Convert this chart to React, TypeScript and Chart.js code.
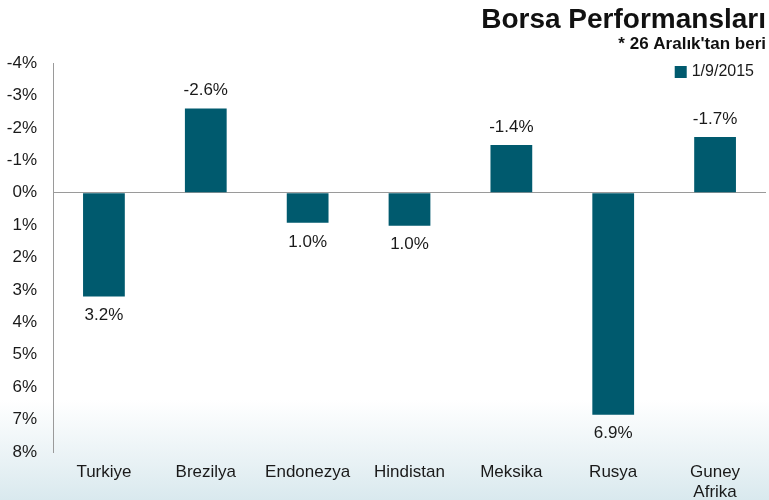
import React, { useEffect, useRef } from "react";
import { Chart, registerables } from "chart.js";

Chart.register(...registerables);

const categories: (string | string[])[] = ["Turkiye", "Brezilya", "Endonezya", "Hindistan", "Meksika", "Rusya", ["Guney", "Afrika"]];
const seriesName = "1/9/2015";
const values = [3.2, -2.6, 0.93, 1.02, -1.47, 6.85, -1.72];
const valueLabels = ["3.2%", "-2.6%", "1.0%", "1.0%", "-1.4%", "6.9%", "-1.7%"];
const titleText = "Borsa Performansları";
const subtitleText = "* 26 Aralık'tan beri";

const BAR = "#005a6e";
const FONT = "'Liberation Sans', Arial, sans-serif";

const valueLabelPlugin = {
  id: "valueLabels",
  afterDatasetsDraw(chart: any) {
    const ctx = chart.ctx;
    const meta = chart.getDatasetMeta(0);
    ctx.save();
    ctx.font = `17px ${FONT}`;
    ctx.fillStyle = "#1a1a1a";
    ctx.textAlign = "center";
    ctx.textBaseline = "middle";
    meta.data.forEach((el: any, i: number) => {
      const v = values[i];
      const y = v >= 0 ? el.y + 19 : el.y - 18;
      ctx.fillText(valueLabels[i], el.x, y);
    });
    ctx.restore();
  },
};

const legendPlugin = {
  id: "customLegend",
  afterDraw(chart: any) {
    const ctx = chart.ctx;
    const area = chart.chartArea;
    ctx.save();
    ctx.font = `16px ${FONT}`;
    const w = ctx.measureText(seriesName).width;
    const textX = area.right - 12 - w;
    const cy = area.top + 9;
    ctx.fillStyle = BAR;
    ctx.fillRect(textX - 17, cy - 6, 12, 12);
    ctx.fillStyle = "#1a1a1a";
    ctx.textAlign = "left";
    ctx.textBaseline = "middle";
    ctx.fillText(seriesName, textX, cy);
    ctx.restore();
  },
};

export default function App() {
  const ref = useRef<HTMLCanvasElement | null>(null);
  useEffect(() => {
    if (!ref.current) return;
    const chart = new Chart(ref.current, {
      type: "bar",
      data: {
        labels: categories,
        datasets: [
          {
            label: seriesName,
            data: values,
            backgroundColor: BAR,
            borderWidth: 0,
            categoryPercentage: 1,
            barPercentage: 0.41,
          },
        ],
      },
      options: {
        animation: false,
        responsive: true,
        maintainAspectRatio: false,
        layout: { padding: { left: 0, right: 3, top: 0, bottom: 0 } },
        plugins: {
          title: {
            display: true,
            text: titleText,
            align: "end",
            color: "#111",
            font: { family: FONT, size: 28, weight: "bold", lineHeight: 1.0 },
            padding: { top: 6, bottom: 2 },
          },
          subtitle: {
            display: true,
            text: subtitleText,
            align: "end",
            color: "#111",
            font: { family: FONT, size: 17, weight: "bold", lineHeight: 1.0 },
            padding: { top: 0, bottom: 10 },
          },
          legend: { display: false },
          tooltip: { enabled: false },
        },
        scales: {
          x: {
            grid: { display: false },
            border: { display: false },
            ticks: {
              color: "#1a1a1a",
              padding: 2,
              maxRotation: 0,
              autoSkip: false,
              font: { family: FONT, size: 17, lineHeight: 1.18 },
            },
            afterFit: (s: any) => {
              s.height = 48;
            },
          },
          y: {
            reverse: true,
            min: -4,
            max: 8,
            grid: {
              drawTicks: false,
              color: (c: any) => (c.tick && c.tick.value === 0 ? "#9a9a9a" : "rgba(0,0,0,0)"),
            },
            border: { display: true, color: "#9a9a9a" },
            ticks: {
              stepSize: 1,
              padding: 16,
              color: "#1a1a1a",
              font: { family: FONT, size: 17 },
              callback: (v: any) => `${v}%`,
            },
            afterFit: (s: any) => {
              s.width = 53;
            },
          },
        },
      },
      plugins: [valueLabelPlugin, legendPlugin],
    });
    return () => chart.destroy();
  }, []);
  return (
    <div
      style={{
        position: "fixed",
        left: 0,
        top: 0,
        width: 769,
        height: 500,
        background: "linear-gradient(to bottom, #ffffff 0%, #ffffff 80%, #e9f2f5 92%, #d9e9ee 100%)",
      }}
    >
      <canvas ref={ref} />
    </div>
  );
}
